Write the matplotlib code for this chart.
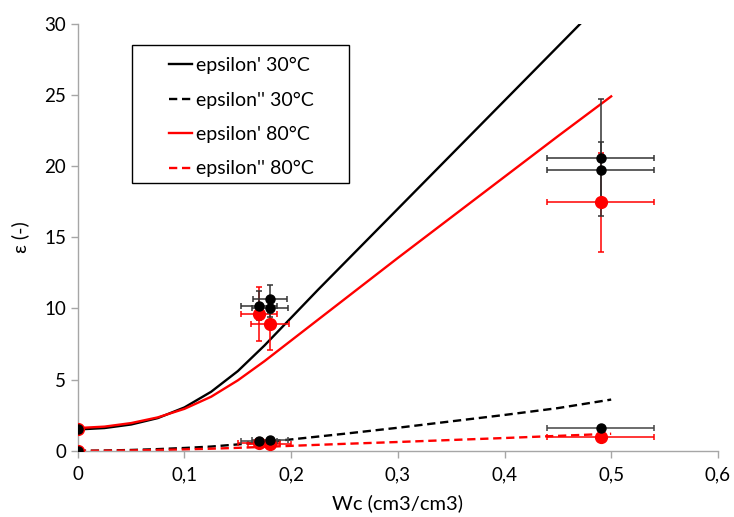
import matplotlib
matplotlib.use("Agg")
import matplotlib.pyplot as plt
from matplotlib.ticker import FuncFormatter
from matplotlib.patches import Rectangle

plt.rcParams['font.family'] = ['Lato', 'DejaVu Sans']

# Model curves
curve_x = [0, 0.025, 0.05, 0.075, 0.1, 0.125, 0.15, 0.175, 0.2, 0.225, 0.25,
           0.3, 0.35, 0.4, 0.45, 0.5]
eps1_30_curve = [1.5, 1.6, 1.85, 2.3, 3.05, 4.15, 5.6, 7.4, 9.35, 11.3, 13.2,
                 17.0, 20.8, 24.6, 28.4, 32.2]
eps1_80_curve = [1.6, 1.7, 1.95, 2.35, 2.95, 3.8, 4.95, 6.3, 7.75, 9.2, 10.65,
                 13.55, 16.4, 19.25, 22.1, 24.9]
eps2_30_curve = [0, 0.02, 0.06, 0.12, 0.2, 0.3, 0.45, 0.62, 0.8, 1.0, 1.2,
                 1.62, 2.07, 2.52, 3.0, 3.6]
eps2_80_curve = [0, 0.01, 0.03, 0.06, 0.1, 0.15, 0.21, 0.28, 0.35, 0.42, 0.49,
                 0.62, 0.76, 0.9, 1.05, 1.2]

# Measurements
m1_30_x = [0, 0.17, 0.18, 0.18, 0.49, 0.49]
m1_30_y = [1.5, 10.2, 10.65, 10.0, 20.6, 19.7]
m1_30_xerr = [0, 0.017, 0.016, 0.017, 0.05, 0.05]
m1_30_yerr = [0, 1.0, 1.0, 0.6, 4.1, 2.0]

m1_80_x = [0, 0.17, 0.18, 0.49]
m1_80_y = [1.5, 9.6, 8.9, 17.45]
m1_80_xerr = [0, 0.017, 0.018, 0.05]
m1_80_yerr = [0, 1.9, 1.8, 3.5]

m2_30_x = [0, 0.17, 0.18, 0.49]
m2_30_y = [0, 0.72, 0.78, 1.62]
m2_30_xerr = [0, 0.017, 0.017, 0.05]

m2_80_x = [0, 0.17, 0.18, 0.49]
m2_80_y = [0, 0.55, 0.47, 1.0]
m2_80_xerr = [0, 0.02, 0.02, 0.05]

fig = plt.figure(figsize=(7.34, 5.17), dpi=100)
ax = fig.add_axes([0.106, 0.128, 0.872, 0.826])

dash = (0, (3.5, 2))
ax.plot(curve_x, eps1_30_curve, color='black', lw=1.7, label="epsilon' 30°C", zorder=2)
ax.plot(curve_x, eps2_30_curve, color='black', lw=1.7, ls=dash, label="epsilon'' 30°C", zorder=2)
ax.plot(curve_x, eps1_80_curve, color='red', lw=1.7, label="epsilon' 80°C", zorder=2)
ax.plot(curve_x, eps2_80_curve, color='red', lw=1.7, ls=dash, label="epsilon'' 80°C", zorder=2)

ekw = dict(fmt='o', capsize=2.5, elinewidth=1.1, capthick=1.1, zorder=3)
ax.errorbar(m1_80_x, m1_80_y, xerr=m1_80_xerr, yerr=m1_80_yerr, color='red', ecolor='red',
            ms=8.5, **ekw)
ax.errorbar(m2_80_x, m2_80_y, xerr=m2_80_xerr, color='red', ecolor='red', ms=8.5, **ekw)
ax.errorbar(m1_30_x, m1_30_y, xerr=m1_30_xerr, yerr=m1_30_yerr, color='black', ecolor='#333333',
            ms=6.5, **ekw)
ax.errorbar(m2_30_x, m2_30_y, xerr=m2_30_xerr, color='black', ecolor='#444444', ms=6.5, **ekw)

ax.set_xlim(0, 0.6)
ax.set_ylim(0, 30)
ax.set_xticks([0, 0.1, 0.2, 0.3, 0.4, 0.5, 0.6])
ax.set_yticks([0, 5, 10, 15, 20, 25, 30])
ax.xaxis.set_major_formatter(FuncFormatter(lambda v, p: ('%g' % round(v, 2)).replace('.', ',')))
for s in ['top', 'right']:
    ax.spines[s].set_visible(False)
for s in ['left', 'bottom']:
    ax.spines[s].set_color('#a6a6a6')
    ax.spines[s].set_linewidth(1)
ax.tick_params(axis='both', colors='#a6a6a6', labelcolor='black', labelsize=13.5, length=5, width=1)
ax.tick_params(axis='x', pad=6)

ax.set_xlabel('Wc (cm3/cm3)', fontsize=14.5, labelpad=8)
ax.set_ylabel('ε (-)', fontsize=14, labelpad=11)

handles, labels = ax.get_legend_handles_labels()
leg = ax.legend(handles[:4], labels[:4], loc='upper left', bbox_to_anchor=(0.142, 0.922),
                fontsize=14, frameon=False,
                handlelength=1.2, handletextpad=0.2, labelspacing=0.89, borderpad=0,
                borderaxespad=0)
fig.patches.append(Rectangle((132 / 734, 1 - 183 / 517), 217 / 734, 138 / 517,
                             transform=fig.transFigure, fill=False, edgecolor='black',
                             linewidth=1, zorder=5))

fig.savefig('out.png', dpi=100)
